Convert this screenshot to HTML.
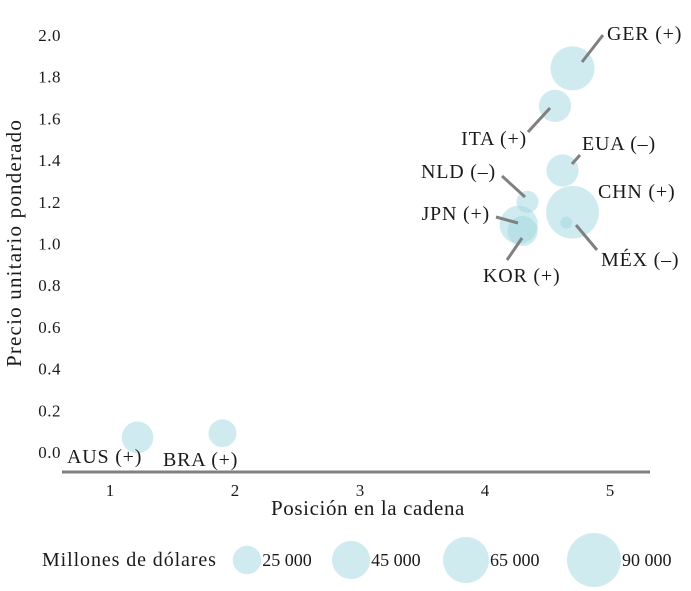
<!DOCTYPE html>
<html><head><meta charset="utf-8"><style>
body{margin:0;background:#fff}
svg{display:block;font-family:"Liberation Serif",serif;fill:#1a1a1a}
</style></head><body>
<svg width="691" height="591" viewBox="0 0 691 591">
<g id="ticks"></g>
<line x1="62" y1="472" x2="650" y2="472" stroke="#808080" stroke-width="3"/>
<text x="368" y="515" font-size="21" letter-spacing="0.6" text-anchor="middle">Posición en la cadena</text>
<text transform="translate(21,243) rotate(-90)" font-size="21" letter-spacing="1.2" text-anchor="middle">Precio unitario ponderado</text>
<g id="bubbles"></g>
<g id="leaders" stroke="#808080" stroke-width="3"></g>
<g id="labels" font-size="20" letter-spacing="0.8"></g>
<g id="legend"></g>
</svg>
<script>
const countries=["AUS","BRA","GER","ITA","EUA","NLD","CHN","MÉX","JPN","KOR"];
const xValues=[1.22,1.90,4.70,4.56,4.62,4.34,4.70,4.65,4.27,4.30];
const yValues=[0.07,0.09,1.84,1.66,1.35,1.20,1.15,1.10,1.09,1.06];
const sizes=[31000,24000,60000,32000,32000,15000,86000,4500,45000,28000];
const labelTexts=["AUS (+)","BRA (+)","GER (+)","ITA (+)","EUA (–)","NLD (–)","CHN (+)","MÉX (–)","JPN (+)","KOR (+)"];
const xTicks=[1,2,3,4,5];
const yTicks=["0.0","0.2","0.4","0.6","0.8","1.0","1.2","1.4","1.6","1.8","2.0"];
const legendValues=[25000,45000,65000,90000];
const legendLabels=["25 000","45 000","65 000","90 000"];
const NS="http://www.w3.org/2000/svg";
const xs=v=>110+(v-1)*125, ys=v=>452-v*208.5, rs=v=>Math.sqrt(v)*0.09;
function mk(tag,attrs,parent,txt){const e=document.createElementNS(NS,tag);for(const k in attrs)e.setAttribute(k,attrs[k]);if(txt!==undefined)e.textContent=txt;parent.appendChild(e);return e;}
const T=document.getElementById('ticks');
xTicks.forEach(t=>{const e=mk('text',{x:xs(t),y:496,'font-size':17,'text-anchor':'middle'},T,String(t));

});
yTicks.forEach(t=>{const e=mk('text',{x:61,y:ys(parseFloat(t))+6,'font-size':17,'letter-spacing':0.5,'text-anchor':'end'},T,t);

});
const B=document.getElementById('bubbles');
countries.forEach((c,i)=>{const e=mk('circle',{cx:xs(xValues[i]),cy:ys(yValues[i]),r:rs(sizes[i]),fill:'#9fd8e0','fill-opacity':0.5},B);

});
const leaders=[null,null,[582,62,603,35],[550,108,528,132],[572,164,580,155],[502,176,525,197],null,[576,225,597,250],[496,217,518,223],[507,260,522,238]];
const labelPos=[[67,463,'start'],[163,466,'start'],[607,40,'start'],[527,145,'end'],[582,150,'start'],[496,178,'end'],[598,198,'start'],[601,266,'start'],[490,220,'end'],[483,282,'start']];
const L=document.getElementById('leaders'),LB=document.getElementById('labels');
countries.forEach((c,i)=>{if(leaders[i]){const l=leaders[i];const e=mk('line',{x1:l[0],y1:l[1],x2:l[2],y2:l[3]},L);

}
const p=labelPos[i];const t=mk('text',{x:p[0],y:p[1],'text-anchor':p[2]},LB,labelTexts[i]);

});
const G=document.getElementById('legend');
const lt=mk('text',{x:42,y:566,'font-size':20,'letter-spacing':0.9},G,'Millones de dólares');


const lcx=[247,351,466,594];
legendValues.forEach((v,i)=>{const r=rs(v);const c=mk('circle',{cx:lcx[i],cy:560,r:r,fill:'#9fd8e0','fill-opacity':0.5},G);


const t=mk('text',{x:lcx[i]+r+1,y:566,'font-size':18},G,legendLabels[i]);

});
</script>
</body></html>
